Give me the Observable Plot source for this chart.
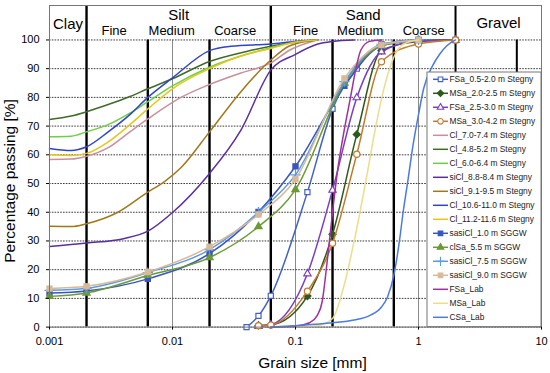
<!DOCTYPE html>
<html><head><meta charset="utf-8">
<script src="https://cdn.jsdelivr.net/npm/d3@7"></script>
<script src="https://cdn.jsdelivr.net/npm/@observablehq/plot@0.6"></script>
<style>
body{margin:0;background:#fff;}
svg{font-family:"Liberation Sans",Arial,sans-serif;}
</style>
</head><body><div id="chart"></div>
<script>
// ---------- axis ticks ----------
const xTicks = [0.001, 0.01, 0.1, 1, 10];
const xTickLabels = ["0.001", "0.01", "0.1", "1", "10"];
const yTicks = [0, 10, 20, 30, 40, 50, 60, 70, 80, 90, 100];

// ---------- soil fraction boundaries (mm) ----------
const mainBounds = [0.002, 0.063, 2];
const subBounds = [0.0063, 0.02, 0.2, 0.63];
const gravelSub = [6.3];
const classNames = ["Clay", "Silt", "Sand", "Gravel"];
const classEdges = [0.001, 0.002, 0.063, 2, 10];
const subNames = ["Fine", "Medium", "Coarse", "Fine", "Medium", "Coarse"];
const subEdges = [[0.002, 0.0063], [0.0063, 0.02], [0.02, 0.063], [0.063, 0.2], [0.2, 0.63], [0.63, 2]];

// ---------- series ----------
const names = [
  "FSa_0.5-2.0 m Stegny", "MSa_2.0-2.5 m Stegny", "FSa_2.5-3.0 m Stegny", "MSa_3.0-4.2 m Stegny",
  "Cl_7.0-7.4 m Stegny", "Cl_4.8-5.2 m Stegny", "Cl_6.0-6.4 m Stegny", "siCl_8.8-8.4 m Stegny",
  "siCl_9.1-9.5 m Stegny", "Cl_10.6-11.0 m Stegny", "Cl_11.2-11.6 m Stegny",
  "sasiCl_1.0 m SGGW", "clSa_5.5 m SGGW", "sasiCl_7.5 m SGGW", "sasiCl_9.0 m SGGW",
  "FSa_Lab", "MSa_Lab", "CSa_Lab"
];

// Stegny sands (sieve analysis)
const dFSa05 = [0.04, 0.05, 0.063, 0.125, 0.2, 0.315, 0.5, 1, 2];
const pFSa05 = [0, 3.9, 10.9, 47, 76, 90, 98.5, 100, 100];
const dMSa20 = [0.05, 0.063, 0.125, 0.2, 0.315, 0.5, 1, 2];
const pMSa20 = [0.6, 0.8, 10.8, 32.3, 67.1, 96.3, 99.5, 100];
const dFSa25 = [0.05, 0.063, 0.125, 0.2, 0.315, 0.5, 1, 2];
const pFSa25 = [0.3, 0.8, 18.6, 47.7, 79.9, 95.9, 99.6, 100];
const dMSa30 = [0.05, 0.063, 0.125, 0.2, 0.315, 0.5, 1, 2];
const pMSa30 = [0.5, 0.7, 12.5, 29.2, 60.2, 92.4, 98.6, 100];

// Stegny clays
const dCl70 = [0.001, 0.0015, 0.002, 0.003, 0.0045, 0.0063, 0.0117, 0.02, 0.036, 0.063, 0.09, 0.15];
const pCl70 = [58.4, 58.5, 59.5, 62.5, 68, 72.5, 80, 84.5, 88.5, 92, 96.5, 100];
const dCl48 = [0.001, 0.0015, 0.002, 0.003, 0.0045, 0.0063, 0.01, 0.02, 0.04, 0.063, 0.1, 0.15];
const pCl48 = [72.3, 73.5, 75, 77.5, 80.3, 83, 86.5, 92.5, 96, 97.8, 99.3, 100];
const dCl60 = [0.001, 0.0015, 0.002, 0.003, 0.0045, 0.0063, 0.01, 0.02, 0.04, 0.063, 0.1, 0.15];
const pCl60 = [66.3, 66.5, 68, 70.5, 74.5, 78.5, 84, 90.5, 95, 97.3, 99.3, 100];
const dSiCl88 = [0.001, 0.002, 0.004, 0.0063, 0.01, 0.02, 0.036, 0.063, 0.1, 0.15, 0.2, 0.3];
const pSiCl88 = [28.1, 29.3, 30.8, 33.4, 39.9, 53.5, 68.6, 89.5, 95, 98.5, 99.5, 100];
const dSiCl91 = [0.001, 0.0015, 0.002, 0.0036, 0.0063, 0.0085, 0.0117, 0.02, 0.036, 0.063, 0.09, 0.15];
const pSiCl91 = [35.1, 35, 36, 40, 47, 50.5, 55.5, 68, 82, 93, 98, 100];
const dCl106 = [0.001, 0.0015, 0.002, 0.003, 0.0045, 0.0063, 0.01, 0.02, 0.03, 0.063, 0.1, 0.15];
const pCl106 = [62.2, 61.5, 62.8, 68, 74, 80, 86.8, 96.3, 97.8, 98.6, 99.5, 100];
const dCl112 = [0.001, 0.0015, 0.002, 0.003, 0.0045, 0.0063, 0.01, 0.02, 0.04, 0.063, 0.1, 0.15];
const pCl112 = [60.1, 59.8, 60.5, 64.5, 70.5, 76, 83, 90, 95, 97, 99.3, 100];

// SGGW
const dSGGW = [0.001, 0.002, 0.0063, 0.02, 0.05, 0.1, 0.25, 0.5, 1];
const pSasiCl10 = [11.9, 12.6, 16.8, 25.6, 40.1, 56, 84, 98, 100];
const pClSa55 = [10.7, 11.9, 18, 24.2, 35, 47.9, 85, 98, 100];
const pSasiCl75 = [12.8, 13.5, 19, 27, 40, 53, 85.5, 98.5, 100];
const pSasiCl90 = [13.4, 14.2, 19.2, 28, 39.2, 51.5, 86.6, 98.3, 100];

// Lab sands
const dFSaLab = [0.063, 0.1, 0.13, 0.15, 0.165, 0.18, 0.2, 0.22, 0.25, 0.28, 0.31, 0.34, 0.4, 0.5];
const pFSaLab = [0, 0.3, 1.5, 4, 9, 22, 40, 54.6, 69, 80, 90, 96.5, 99.5, 100];
const dMSaLab = [0.1, 0.15, 0.2, 0.25, 0.3, 0.37, 0.45, 0.53, 0.63, 0.75, 1];
const pMSaLab = [0, 0.5, 3, 15, 30, 50, 70, 84, 94, 98.5, 100];
const dCSaLab = [0.063, 0.1, 0.2, 0.3, 0.4, 0.5, 0.56, 0.63, 0.7, 0.75, 0.82, 0.9, 1.0, 1.1, 1.3, 1.5, 1.7, 2.0];
const pCSaLab = [0, 0.5, 1.5, 2.5, 4, 7, 10.5, 18, 30, 40, 51, 63, 74, 83, 91, 95.3, 98, 100];

const seriesD = [dFSa05, dMSa20, dFSa25, dMSa30, dCl70, dCl48, dCl60, dSiCl88, dSiCl91, dCl106, dCl112,
  dSGGW, dSGGW, dSGGW, dSGGW, dFSaLab, dMSaLab, dCSaLab];
const seriesP = [pFSa05, pMSa20, pFSa25, pMSa30, pCl70, pCl48, pCl60, pSiCl88, pSiCl91, pCl106, pCl112,
  pSasiCl10, pClSa55, pSasiCl75, pSasiCl90, pFSaLab, pMSaLab, pCSaLab];

// ---------- styles ----------
const colors = ["#4262c8", "#2c5a1c", "#7a3fbf", "#c47a2c", "#c9909c", "#3f6b26", "#6cd040", "#5a2ea0",
  "#a0781a", "#2f45c8", "#e6c619", "#3a55c0", "#6b9a35", "#5c9be0", "#d8ba9a", "#a0309e", "#ebdd8a", "#4a7be0"];
const symbols = ["square", "diamond2", "triangle", "circle", null, null, null, null, null, null, null,
  "square", "triangle", "plus", "square", null, null, null];
const openMarker = [true, false, true, true, false, false, false, false, false, false, false,
  false, false, false, false, false, false, false];
const markerR = {square: 2.9, diamond2: 3.2, triangle: 2.7, circle: 3.1, plus: 3.4};

const rows = [];
names.forEach((n, i) => seriesD[i].forEach((d, j) => rows.push({s: i, name: n, d, p: seriesP[i][j]})));

// header label placement (y in the header band above 100 %)
const classY = [105.6, 108.7, 108.7, 105.8];
const headerLabels = classNames.map((n, i) => ({n, x: Math.sqrt(classEdges[i] * classEdges[i + 1]), y: classY[i]}));
const subDx = [-3, -7, -5, 4, -3, -1];
const subLabels = subNames.map((n, i) => ({n, x: Math.sqrt(subEdges[i][0] * subEdges[i][1]), y: 103.1, dx: subDx[i]}));

const marks = [
  Plot.ruleX(xTicks, {y1: 0, y2: 100, stroke: "#8a8a8a", strokeWidth: 1}),
  Plot.ruleY(yTicks, {stroke: "#3a3a3a", strokeWidth: 1, strokeDasharray: "1.6,1.2"}),
  Plot.ruleX(subBounds, {y1: 0, y2: 100, stroke: "#000", strokeWidth: 2.4}),
  Plot.ruleX(gravelSub, {y1: 0, y2: 100, stroke: "#000", strokeWidth: 2}),
  Plot.ruleX(mainBounds.slice(0, 2), {y1: 0, y2: 112, stroke: "#000", strokeWidth: 2.4}),
  Plot.ruleX(mainBounds.slice(2), {y1: 0, y2: 112, stroke: "#000", strokeWidth: 2}),
];
names.forEach((n, i) => {
  const data = rows.filter(r => r.s === i);
  marks.push(Plot.line(data, {x: "d", y: "p", stroke: colors[i], strokeWidth: 1.5, curve: "monotone-x"}));
  if (symbols[i]) {
    marks.push(Plot.dot(data, {x: "d", y: "p", symbol: symbols[i], r: markerR[symbols[i]],
      stroke: colors[i], fill: openMarker[i] ? "white" : colors[i], strokeWidth: 1.2}));
  }
});
subLabels.forEach(l => marks.push(
  Plot.text([l], {x: "x", y: "y", text: "n", dx: l.dx, fontSize: 13, fill: "#000", lineAnchor: "middle"})));
marks.push(
  Plot.text(headerLabels, {x: "x", y: "y", text: "n", fontSize: 15, fill: "#000", lineAnchor: "middle"}),
  Plot.frame({stroke: "#777", strokeWidth: 1}),
  Plot.axisX({ticks: xTicks, tickFormat: d => xTickLabels[xTicks.indexOf(d)], tickSize: 3, tickPadding: 7, fontSize: 11, label: null}),
  Plot.axisY({ticks: yTicks, tickSize: 3, tickPadding: 7, fontSize: 11, label: null})
);

const chart = Plot.plot({
  width: 550, height: 373,
  marginLeft: 49, marginRight: 9, marginTop: 5, marginBottom: 46.4,
  x: {type: "log", domain: [0.001, 10]},
  y: {domain: [0, 112]},
  style: {fontFamily: "'Liberation Sans',Arial,sans-serif", color: "#000", background: "#fff", fontSize: "11px"},
  marks
});
document.getElementById("chart").appendChild(chart);

// ---------- titles ----------
const svg = d3.select(chart);
svg.append("text").attr("transform", "translate(15,181) rotate(-90)").attr("text-anchor", "middle")
  .attr("font-size", 15.5).attr("fill", "#000").text("Percentage passing [%]");
svg.append("text").attr("x", 312.5).attr("y", 368).attr("text-anchor", "middle")
  .attr("font-size", 15.5).attr("fill", "#000").text("Grain size [mm]");

// ---------- legend ----------
const symMap = {square: d3.symbolSquare, diamond2: d3.symbolDiamond2, triangle: d3.symbolTriangle,
  circle: d3.symbolCircle, plus: d3.symbolPlus};
const lg = svg.append("g");
lg.append("rect").attr("x", 427).attr("y", 72).attr("width", 114).attr("height", 254.6)
  .attr("fill", "#fff").attr("stroke", "#777");
names.forEach((n, i) => {
  const y = 79.3 + i * 14;
  lg.append("line").attr("x1", 433).attr("x2", 448).attr("y1", y).attr("y2", y)
    .attr("stroke", colors[i]).attr("stroke-width", 1.5);
  if (symbols[i]) {
    const r = markerR[symbols[i]] * 0.9;
    lg.append("path").attr("transform", `translate(440.5,${y})`)
      .attr("d", d3.symbol().type(symMap[symbols[i]]).size(Math.PI * r * r)())
      .attr("stroke", colors[i]).attr("fill", openMarker[i] ? "white" : colors[i]).attr("stroke-width", 1.1);
  }
  lg.append("text").attr("x", 449.5).attr("y", y).attr("dy", "0.35em").attr("font-size", 8.4)
    .attr("text-anchor", "start").attr("fill", "#222").text(n);
});
</script></body></html>
